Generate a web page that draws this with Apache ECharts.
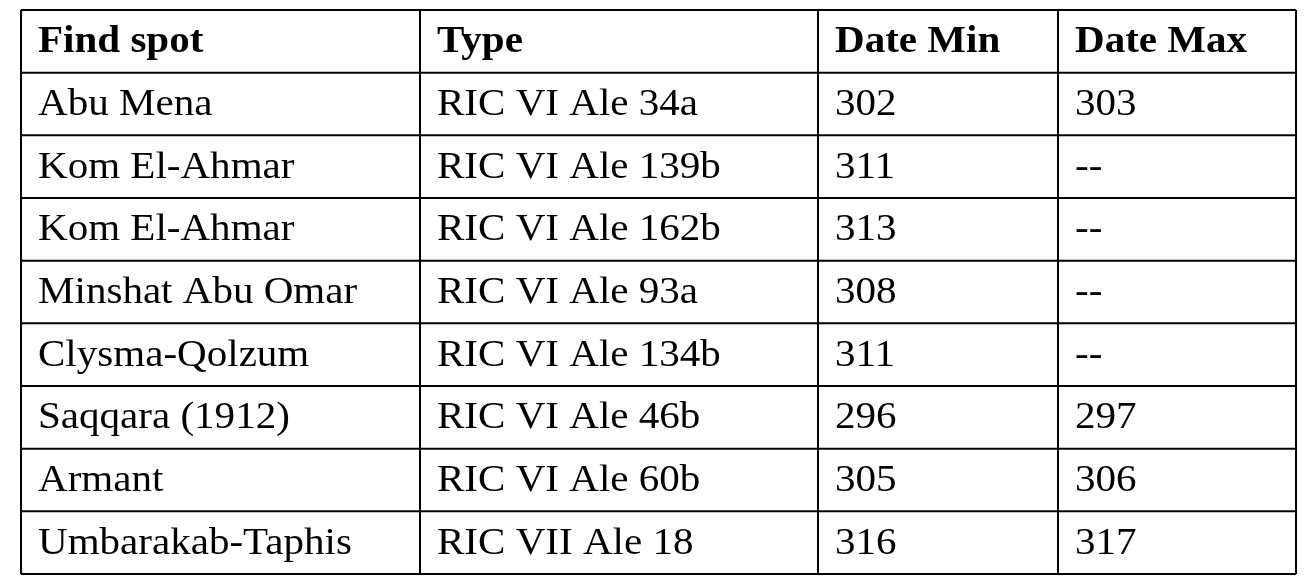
<!DOCTYPE html>
<html>
<head>
<meta charset="utf-8">
<script src="https://cdn.jsdelivr.net/npm/echarts@6/dist/echarts.min.js"></script>
<style>html,body{margin:0;padding:0;background:#fff}#main{width:1313px;height:579px}</style>
</head>
<body>
<div id="main"></div>
<script>
var headers = ["Find spot", "Type", "Date Min", "Date Max"];
var findSpots = ["Abu Mena", "Kom El-Ahmar", "Kom El-Ahmar", "Minshat Abu Omar", "Clysma-Qolzum", "Saqqara (1912)", "Armant", "Umbarakab-Taphis"];
var types = ["RIC VI Ale 34a", "RIC VI Ale 139b", "RIC VI Ale 162b", "RIC VI Ale 93a", "RIC VI Ale 134b", "RIC VI Ale 46b", "RIC VI Ale 60b", "RIC VII Ale 18"];
var dateMin = ["302", "311", "313", "308", "311", "296", "305", "316"];
var dateMax = ["303", "--", "--", "--", "--", "297", "306", "317"];

var colX = [21, 420, 818, 1058, 1296];
var top0 = 10, bottom0 = 574, rowCount = findSpots.length + 1;
var rowH = (bottom0 - top0) / rowCount;

var elements = [];
var font = '"Liberation Serif", "DejaVu Serif", serif';
// grid lines
for (var i = 0; i <= rowCount; i++) {
    var y = top0 + i * rowH;
    elements.push({ type: 'line', shape: { x1: colX[0], y1: y, x2: colX[4], y2: y }, style: { stroke: '#000', lineWidth: 2 } });
}
for (var j = 0; j < colX.length; j++) {
    elements.push({ type: 'line', shape: { x1: colX[j], y1: top0, x2: colX[j], y2: bottom0 }, style: { stroke: '#000', lineWidth: 2 } });
}
function cell(col, row, txt, bold) {
    elements.push({
        type: 'text',
        x: colX[col] + 17,
        y: top0 + row * rowH + rowH / 2 + 1,
        scaleX: 1.08,
        style: { text: txt, fill: '#000', font: (bold ? 'bold ' : '') + '38px ' + font, verticalAlign: 'middle', align: 'left' }
    });
}
headers.forEach(function (h, c) { cell(c, 0, h, true); });
for (var r = 0; r < findSpots.length; r++) {
    cell(0, r + 1, findSpots[r]);
    cell(1, r + 1, types[r]);
    cell(2, r + 1, dateMin[r]);
    cell(3, r + 1, dateMax[r]);
}

var chart = echarts.init(document.getElementById('main'));
chart.setOption({ backgroundColor: '#fff', animation: false, graphic: { elements: elements } });
</script>
</body>
</html>
